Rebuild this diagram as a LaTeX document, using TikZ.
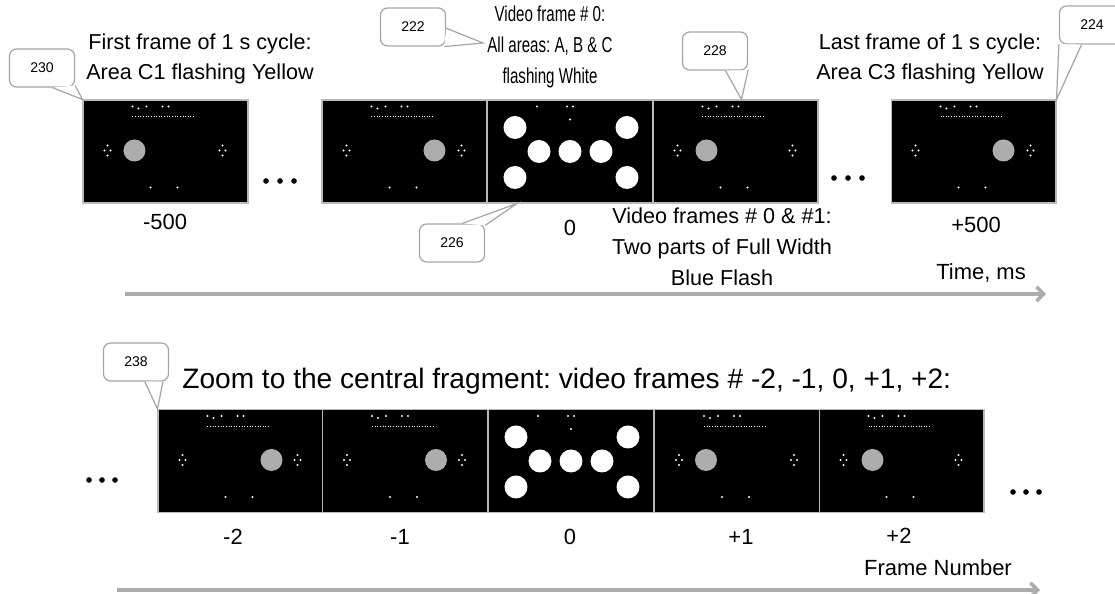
\documentclass[tikz,border=0pt]{standalone}
\usepackage{fontspec}
\setmainfont{Liberation Sans}
\frenchspacing
\usetikzlibrary{arrows.meta, positioning, calc}

\begin{document}
\begin{tikzpicture}[x=0.02cm, y=-0.02cm,
  vframe/.style={draw=gray!55, line width=0.6pt, fill=black, minimum width=3.3cm, minimum height=2.06cm, inner sep=0pt},
  tag/.style={draw=gray!70, line width=0.7pt, rounded corners=4pt, fill=white, minimum width=1.3cm, minimum height=0.76cm, inner sep=1pt, font=\fontsize{8}{9}\selectfont},
  tail/.style={draw=gray!70, line width=0.7pt},
  lbl/.style={font=\fontsize{12.3}{17.5}\selectfont, align=center, inner sep=1pt},
  num/.style={font=\fontsize{12.5}{14}\selectfont, inner sep=1pt},
  ball/.style={fill=white!68!black},
  timeline/.style={draw=gray!65, line width=2pt, -{Straight Barb[length=4pt, width=8pt]}}]
  \useasboundingbox (0,0) rectangle (1115,594);

  % Upper strip: one second cycle
  \foreach \n/\x in {f1/165.5, f2/404.5, f3/570, f4/735.5, f5/973.5}
    \node[vframe] (\n) at (\x,151.5) {};
  % Lower strip: zoom on frames -2 .. +2
  \foreach \n/\x in {g1/240.5, g2/405, g3/571, g4/737, g5/901.5}
    \node[vframe] (\n) at (\x,461) {};

  % Frames with one area lit (grey ball)
  \foreach \n/\c in {f1/52, f2/113, f4/54, f5/113, g1/114, g2/114, g4/52, g5/54} {
    \begin{scope}[shift={(\n.north west)}]
      \fill[ball] (\c,51) circle (0.22cm);
      \draw[white, densely dotted, line width=0.5pt] (50,17) -- (112,17);
      \foreach \px/\py in {50/7,56/9,64/7,80/7,86/7,22/51,28/51,25/46,25/56,137/51,143/51,140/46,140/56,68/88,95/88}
        \fill[white] (\px,\py) circle (0.6pt);
    \end{scope}
  }
  % Frame 0: all areas white
  \foreach \n in {f3, g3} {
    \begin{scope}[shift={(\n.north west)}]
      \foreach \px/\py in {28/28,140/28,52/52,83/52,114/52,28/78,140/78}
        \fill[white] (\px,\py) circle (0.23cm);
      \foreach \px/\py in {50/7,80/7,86/7,83/20}
        \fill[white] (\px,\py) circle (0.6pt);
    \end{scope}
  }

  % Omitted frames
  \foreach \x in {266,280,294} \fill (\x,181) circle (1.6pt);
  \foreach \x in {834,848,862} \fill (\x,178) circle (1.6pt);
  \foreach \x in {89,102,115} \fill (\x,480) circle (1.6pt);
  \foreach \x in {1013,1026,1039} \fill (\x,492) circle (1.6pt);

  % Descriptions
  \node[lbl] (firsttxt) at (200,59) {First frame of 1 s cycle:\\Area C1 flashing Yellow};
  \node[lbl, xscale=0.7, transform shape] (zerotxt) at (550,47) {Video frame \# 0:\\All areas: A, B \& C\\flashing White};
  \node[lbl] (lasttxt) at (930,59) {Last frame of 1 s cycle:\\Area C3 flashing Yellow};
  \node[lbl] (bluetxt) at (722,247) {Video frames \# 0 \& \#1:\\Two parts of Full Width\\Blue Flash};
  \node[font=\fontsize{16}{18}\selectfont, anchor=west, inner sep=0pt] (zoomtxt) at (182,381)
    {Zoom to the central fragment: video frames \# -2, -1, 0, +1, +2:};

  % Time axis
  \node[num] (tm500) at (165,222) {-500};
  \node[num] (t0) at (570,228) {0};
  \node[num] (tp500) at (976,225) {+500};
  \node[num] (tunit) at (981,273) {Time, ms};
  \coordinate (ta) at (125,294);
  \coordinate (tb) at (1046,294);
  \draw[timeline] (ta) -- (tb);

  % Frame axis
  \node[num] (nm2) at (233,537) {-2};
  \node[num] (nm1) at (400,537) {-1};
  \node[num] (n0) at (570,537) {0};
  \node[num] (np1) at (741,537) {+1};
  \node[num] (np2) at (899,536) {+2};
  \node[num] (nunit) at (938,568) {Frame Number};
  \coordinate (ba) at (117,590);
  \coordinate (bb) at (1040,590);
  \draw[timeline] (ba) -- (bb);

  % Reference callouts
  \node[tag] (c230) at (42,68) {230};
  \node[tag] (c222) at (413,27) {222};
  \node[tag] (c228) at (715,51) {228};
  \node[tag] (c224) at (1092,25) {224};
  \node[tag] (c226) at (452,243) {226};
  \node[tag] (c238) at (136,362) {238};
  \coordinate (p222) at (483,43);
  \coordinate (p228) at ($(f4.north west)+(89,0)$);
  \coordinate (p226) at ($(f3.south west)+(30,0)$);
  \foreach \c/\a/\p/\b in {c230/-62/f1.north west/-28, c222/-2/p222/-32, c228/-62/p228/-30,
                           c224/-150/f5.north east/-118, c226/28/p226/62, c238/-66/g1.north west/-36} {
    \fill[white] (\c.\a) -- (\p) -- (\c.\b) -- cycle;
    \draw[tail] (\c.\a) -- (\p) -- (\c.\b);
  }
\end{tikzpicture}
\end{document}
